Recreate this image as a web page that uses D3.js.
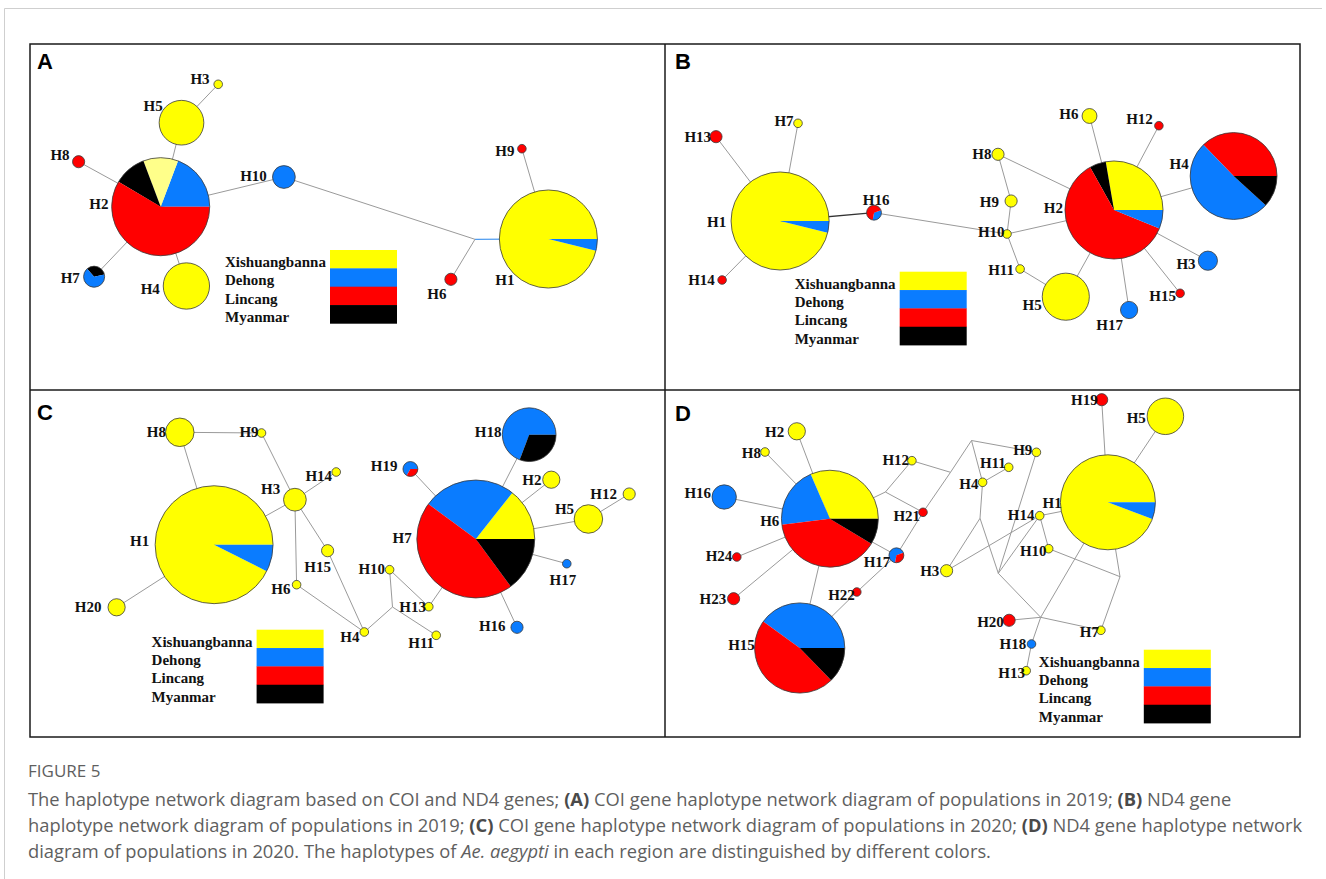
<!DOCTYPE html>
<html>
<head>
<meta charset="utf-8">
<script src="https://cdn.jsdelivr.net/npm/d3@7"></script>
<style>
  body { margin: 0; background: #fff; }
  .link { stroke: #9a9a9a; stroke-width: 1; fill: none; }
  .link.dk { stroke: #333; stroke-width: 1.3; }
  .link.hl { stroke: #4f9cf0; stroke-width: 1.2; }
  .hap { font-family: "Liberation Serif", "Times New Roman", serif; font-weight: bold; font-size: 15px; fill: #111; }
  .letter { font-family: "Liberation Sans", Arial, sans-serif; font-weight: bold; font-size: 22px; fill: #000; }
  .cap { font-family: "Open Sans", sans-serif; fill: #5f5f5f; }
</style>
</head>
<body>
<script>
// Haplotype networks, COI and ND4, 2019 / 2020

var width = 1326;
var height = 879;

// regions in the legend
var regions = ["Xishuangbanna", "Dehong", "Lincang", "Myanmar"];
var regionKeys = ["X", "D", "L", "M"];
var colors = { X: "#ffff00", D: "#0a7cff", L: "#ff0000", M: "#000000", P: "#ffff8a" };

// nodes: layout position in the panel, label anchor, start angle (deg) and slice counts
var nodesA = [
  { id: "H1", x: 518.4, y: 195, lx: 484.5, ly: 235.3, a0: 0, s: [["X", 125], ["D", 5]] },
  { id: "H2", x: 130.7, y: 162.7, lx: 78.4, ly: 160, a0: 0, s: [["D", 25], ["P", 15], ["M", 14], ["L", 76]] },
  { id: "H3", x: 188.2, y: 40.3, lx: 179.6, ly: 35, a0: 0, s: [["X", 1]] },
  { id: "H4", x: 156.4, y: 242, lx: 129.8, ly: 244.3, a0: 0, s: [["X", 29]] },
  { id: "H5", x: 151.5, y: 78.7, lx: 132.7, ly: 61.7, a0: 0, s: [["X", 27]] },
  { id: "H6", x: 420.9, y: 235.3, lx: 416.4, ly: 249.3, a0: 0, s: [["L", 2]] },
  { id: "H7", x: 64.1, y: 232.7, lx: 49.8, ly: 233.3, a0: 12, s: [["M", 2], ["D", 4]] },
  { id: "H8", x: 48.6, y: 117.7, lx: 39.6, ly: 111, a0: 0, s: [["L", 2]] },
  { id: "H9", x: 491.9, y: 104.7, lx: 484.5, ly: 106.7, a0: 0, s: [["L", 1]] },
  { id: "H10", x: 253.9, y: 133, lx: 236.8, ly: 132, a0: 0, s: [["D", 7]] },
  { id: "J1", x: 445, y: 195.3 }
];
var linksA = [["H2", "H5"], ["H5", "H3"], ["H2", "H8"], ["H2", "H7"], ["H2", "H4"], ["H2", "H10"],
  ["H10", "J1"], ["J1", "H1", "hl"], ["J1", "H6"], ["H1", "H9"]];

var nodesB = [
  { id: "H1", x: 115.1, y: 177, lx: 61.2, ly: 177.7, a0: 0, s: [["X", 125], ["D", 5]] },
  { id: "H2", x: 449, y: 166, lx: 398, ly: 163.7, a0: 0, s: [["X", 36], ["M", 7], ["L", 79], ["D", 8]] },
  { id: "H3", x: 542.9, y: 216.7, lx: 530.6, ly: 219.3, a0: 0, s: [["D", 5]] },
  { id: "H4", x: 568.6, y: 132, lx: 523.7, ly: 119.3, a0: 0, s: [["L", 38], ["D", 52], ["M", 12]] },
  { id: "H5", x: 400.8, y: 252.7, lx: 376.7, ly: 261, a0: 0, s: [["X", 30]] },
  { id: "H6", x: 424.5, y: 72, lx: 413.5, ly: 69.3, a0: 0, s: [["X", 3]] },
  { id: "H7", x: 133, y: 79.3, lx: 128.6, ly: 76.7, a0: 0, s: [["X", 1]] },
  { id: "H8", x: 333, y: 110.3, lx: 326.5, ly: 109.3, a0: 0, s: [["X", 2]] },
  { id: "H9", x: 346.1, y: 157, lx: 333.9, ly: 157.7, a0: 0, s: [["X", 2]] },
  { id: "H10", x: 342, y: 190, lx: 339.6, ly: 187.7, a0: 0, s: [["X", 1]] },
  { id: "H11", x: 355.1, y: 225, lx: 349, ly: 225.3, a0: 0, s: [["X", 1]] },
  { id: "H12", x: 493.9, y: 81.7, lx: 487.8, ly: 74.3, a0: 0, s: [["L", 1]] },
  { id: "H13", x: 51, y: 92.7, lx: 46.1, ly: 92.7, a0: 0, s: [["L", 2]] },
  { id: "H14", x: 57.1, y: 236, lx: 49.8, ly: 236, a0: 0, s: [["L", 1]] },
  { id: "H15", x: 515.1, y: 249.3, lx: 511, ly: 252, a0: 0, s: [["L", 1]] },
  { id: "H16", x: 209, y: 168.7, lx: 224.5, ly: 155.3, a0: -100, s: [["D", 1], ["L", 2]] },
  { id: "H17", x: 464.1, y: 266, lx: 458, ly: 281, a0: 0, s: [["D", 4]] }
];
var linksB = [["H1", "H13"], ["H1", "H7"], ["H1", "H14"], ["H1", "H16", "dk"], ["H16", "H10"], ["H10", "H9"],
  ["H9", "H8"], ["H8", "H2"], ["H10", "H2"], ["H10", "H11"], ["H11", "H5"], ["H5", "H2"], ["H2", "H6"],
  ["H2", "H12"], ["H2", "H4"], ["H2", "H3"], ["H2", "H15"], ["H2", "H17"]];

var nodesC = [
  { id: "H1", x: 184.1, y: 154.7, lx: 119.2, ly: 150.7, a0: 0, s: [["X", 174], ["D", 14]] },
  { id: "H2", x: 521.3, y: 89.7, lx: 511.5, ly: 89.7, a0: 0, s: [["X", 4]] },
  { id: "H3", x: 264.9, y: 109.7, lx: 250.2, ly: 99, a0: 0, s: [["X", 7]] },
  { id: "H4", x: 334.3, y: 242, lx: 329.4, ly: 246.3, a0: 0, s: [["X", 1]] },
  { id: "H5", x: 558.4, y: 129, lx: 544.1, ly: 118.7, a0: 0, s: [["X", 11]] },
  { id: "H6", x: 266.6, y: 194.7, lx: 260.4, ly: 198.7, a0: 0, s: [["X", 1]] },
  { id: "H7", x: 445.8, y: 149, lx: 381.7, ly: 148, a0: 0, s: [["X", 27], ["D", 48], ["L", 85], ["M", 28]] },
  { id: "H8", x: 149.8, y: 42.3, lx: 136, ly: 41.3, a0: 0, s: [["X", 11]] },
  { id: "H9", x: 231.5, y: 43, lx: 228.6, ly: 41.3, a0: 0, s: [["X", 1]] },
  { id: "H10", x: 359.6, y: 179.7, lx: 355.1, ly: 178.7, a0: 0, s: [["X", 1]] },
  { id: "H11", x: 406.2, y: 245.3, lx: 404.1, ly: 253, a0: 0, s: [["X", 1]] },
  { id: "H12", x: 599.2, y: 104, lx: 587, ly: 104, a0: 0, s: [["X", 2]] },
  { id: "H13", x: 398.8, y: 216.7, lx: 396, ly: 217, a0: 0, s: [["X", 1]] },
  { id: "H14", x: 306.2, y: 82, lx: 302.1, ly: 85.3, a0: 0, s: [["X", 1]] },
  { id: "H15", x: 297.6, y: 160.7, lx: 300.9, ly: 177, a0: 0, s: [["X", 2]] },
  { id: "H16", x: 487, y: 237.3, lx: 475.6, ly: 235.3, a0: 0, s: [["D", 2]] },
  { id: "H17", x: 536.8, y: 173.7, lx: 546.2, ly: 189.7, a0: 0, s: [["D", 1]] },
  { id: "H18", x: 499.2, y: 44.7, lx: 471.5, ly: 41.3, a0: 0, s: [["D", 27], ["M", 12]] },
  { id: "H19", x: 380.4, y: 79, lx: 367.4, ly: 75.3, a0: 0, s: [["D", 2], ["L", 1]] },
  { id: "H20", x: 86.6, y: 217.3, lx: 71.5, ly: 216.3, a0: 0, s: [["X", 4]] },
  { id: "J1", x: 362.5, y: 217 }
];
var linksC = [["H1", "H8"], ["H8", "H9"], ["H9", "H3"], ["H3", "H1"], ["H3", "H14"], ["H3", "H15"], ["H3", "H6"],
  ["H15", "H4"], ["H6", "H4"], ["H4", "J1"], ["J1", "H10"], ["J1", "H11"], ["H10", "H13"], ["H13", "H7"],
  ["H1", "H20"], ["H7", "H19"], ["H7", "H18"], ["H7", "H2"], ["H7", "H5"], ["H5", "H12"], ["H7", "H17"], ["H7", "H16"]];

var nodesD = [
  { id: "H1", x: 442.9, y: 112.3, lx: 396.7, ly: 112.3, a0: 0, s: [["X", 115], ["D", 7]] },
  { id: "H2", x: 131.8, y: 41.3, lx: 119.2, ly: 41.3, a0: 0, s: [["X", 4]] },
  { id: "H3", x: 281.6, y: 180.7, lx: 274.3, ly: 180.3, a0: 0, s: [["X", 2]] },
  { id: "H4", x: 317.6, y: 92.3, lx: 313.5, ly: 94, a0: 0, s: [["X", 1]] },
  { id: "H5", x: 500.4, y: 26.3, lx: 480.8, ly: 28, a0: 0, s: [["X", 18]] },
  { id: "H6", x: 164.9, y: 128.7, lx: 114.3, ly: 130.3, a0: 0, s: [["X", 40], ["D", 26], ["L", 50], ["M", 11]] },
  { id: "H7", x: 435.9, y: 240.3, lx: 433.9, ly: 241.3, a0: 0, s: [["X", 1]] },
  { id: "H8", x: 100, y: 62, lx: 95.9, ly: 63, a0: 0, s: [["X", 1]] },
  { id: "H9", x: 371.4, y: 62.3, lx: 367.3, ly: 59.7, a0: 0, s: [["X", 1]] },
  { id: "H10", x: 383.7, y: 158.7, lx: 381.6, ly: 160.3, a0: 0, s: [["X", 1]] },
  { id: "H11", x: 343.7, y: 77.3, lx: 340.8, ly: 73, a0: 0, s: [["X", 1]] },
  { id: "H12", x: 246.9, y: 70.7, lx: 244.1, ly: 69.7, a0: 0, s: [["X", 1]] },
  { id: "H13", x: 361.2, y: 280.7, lx: 360, ly: 283, a0: 0, s: [["X", 1]] },
  { id: "H14", x: 374.7, y: 125.7, lx: 369.4, ly: 124.7, a0: 0, s: [["X", 1]] },
  { id: "H15", x: 134.7, y: 258, lx: 89.8, ly: 254.7, a0: 0, s: [["D", 44], ["L", 52], ["M", 14]] },
  { id: "H16", x: 59.2, y: 107, lx: 46.1, ly: 103, a0: 0, s: [["D", 8]] },
  { id: "H17", x: 231.4, y: 165.3, lx: 225.3, ly: 172, a0: 20, s: [["D", 2], ["L", 1]] },
  { id: "H18", x: 366.5, y: 254, lx: 361.2, ly: 253.7, a0: 0, s: [["D", 1]] },
  { id: "H19", x: 436.7, y: 9.7, lx: 432.7, ly: 9.7, a0: 0, s: [["L", 2]] },
  { id: "H20", x: 344.1, y: 230.3, lx: 338.8, ly: 232, a0: 0, s: [["L", 2]] },
  { id: "H21", x: 258, y: 122.3, lx: 255.1, ly: 125.7, a0: 0, s: [["L", 1]] },
  { id: "H22", x: 191.8, y: 202, lx: 189.8, ly: 204.7, a0: 0, s: [["L", 1]] },
  { id: "H23", x: 68.6, y: 208.7, lx: 61.2, ly: 208.7, a0: 0, s: [["L", 2]] },
  { id: "H24", x: 71.8, y: 167, lx: 67.3, ly: 165.3, a0: 0, s: [["L", 1]] },
  { id: "J1", x: 306.5, y: 50.5 },
  { id: "J2", x: 285.5, y: 82.3 },
  { id: "J3", x: 220.4, y: 102 },
  { id: "J4", x: 333.3, y: 183.3 },
  { id: "J5", x: 315, y: 128.3 },
  { id: "J6", x: 375.7, y: 227.3 },
  { id: "J7", x: 455, y: 186.7 }
];
var linksD = [["H6", "H2"], ["H6", "H8"], ["H6", "H16"], ["H6", "H24"], ["H6", "H23"], ["H6", "H15"], ["H6", "H17"],
  ["H15", "H22"], ["H22", "H17"], ["H17", "H21"], ["H21", "J2"], ["J2", "J1"], ["J2", "H12"], ["H12", "J3"],
  ["J3", "H6"], ["J3", "H21"], ["J1", "H9"], ["J1", "H4"], ["H4", "H11"], ["H4", "J5"], ["J5", "H3"], ["J5", "J4"],
  ["H3", "H14"], ["H9", "J4"], ["H14", "J4"], ["H14", "H10"], ["H14", "H1"], ["J4", "J6"], ["J6", "H20"],
  ["J6", "H7"], ["J6", "H1"], ["J6", "H18"], ["H18", "H13"], ["H10", "J7"], ["J7", "H1"], ["J7", "H7"],
  ["H1", "H19"], ["H1", "H5"]];

// panel frames and legend placement
var panels = [
  { key: "A", x0: 30, y0: 44, w: 635, h: 346, nodes: nodesA, links: linksA, legend: [300, 206], letter: [7, 25] },
  { key: "B", x0: 665, y0: 44, w: 635, h: 346, nodes: nodesB, links: linksB, legend: [234.7, 227.7], letter: [10, 24.5] },
  { key: "C", x0: 30, y0: 390, w: 635, h: 347, nodes: nodesC, links: linksC, legend: [226.6, 239.7], letter: [7, 30] },
  { key: "D", x0: 665, y0: 390, w: 635, h: 347, nodes: nodesD, links: linksD, legend: [478.8, 259.7], letter: [10, 31] }
];

var svg = d3.select("body").append("svg")
  .attr("width", width)
  .attr("height", height);

// light page frame
svg.append("path")
  .attr("d", "M1322,8.5H4.5V879")
  .attr("fill", "none")
  .attr("stroke", "#cfcfcf")
  .attr("stroke-width", 1);

// node size ~ sqrt(haplotype count)
var rScale = d3.scaleSqrt().domain([0, 188]).range([0, 4.3 * Math.sqrt(188)]);
var arc = d3.arc().innerRadius(0);
var rad = Math.PI / 180;

panels.forEach(function(p) {
  var g = svg.append("g").attr("transform", `translate(${p.x0}, ${p.y0})`);

  var x = d3.scaleLinear().domain([0, p.w]).range([0, p.w]);
  var y = d3.scaleLinear().domain([0, p.h]).range([0, p.h]);

  var byId = {};
  p.nodes.forEach(function(d) {
    d.n = d.s ? d3.sum(d.s, s => s[1]) : 0;
    byId[d.id] = d;
  });

  // links
  g.selectAll(".link")
    .data(p.links)
    .enter()
    .append("line")
    .attr("class", d => "link" + (d[2] ? " " + d[2] : ""))
    .attr("x1", d => x(byId[d[0]].x))
    .attr("y1", d => y(byId[d[0]].y))
    .attr("x2", d => x(byId[d[1]].x))
    .attr("y2", d => y(byId[d[1]].y));

  // haplotype pies
  var haps = p.nodes.filter(d => d.s);
  var nodeG = g.selectAll(".node")
    .data(haps)
    .enter()
    .append("g")
    .attr("class", "node")
    .attr("transform", d => `translate(${x(d.x)}, ${y(d.y)})`);

  nodeG.each(function(d) {
    var el = d3.select(this);
    var r = rScale(d.n);
    if (d.s.length === 1) {
      el.append("circle").attr("r", r).attr("fill", colors[d.s[0][0]]);
    } else {
      var cum = 0;
      d.s.forEach(function(s) {
        var phi0 = d.a0 + 360 * cum / d.n;
        var phi1 = phi0 + 360 * s[1] / d.n;
        cum += s[1];
        el.append("path")
          .attr("d", arc({ outerRadius: r, startAngle: (90 - phi1) * rad, endAngle: (90 - phi0) * rad }))
          .attr("fill", colors[s[0]]);
      });
    }
    el.append("circle")
      .attr("r", r)
      .attr("fill", "none")
      .attr("stroke", "#3a3a3a")
      .attr("stroke-width", 0.8);
  });

  // haplotype labels
  g.selectAll(".hap")
    .data(haps)
    .enter()
    .append("text")
    .attr("class", "hap")
    .attr("x", d => x(d.lx))
    .attr("y", d => y(d.ly))
    .attr("dy", "0.35em")
    .attr("text-anchor", "end")
    .text(d => d.id);

  // legend
  var lg = g.append("g").attr("transform", `translate(${p.legend[0]}, ${p.legend[1]})`);
  var rowH = 18.35;
  lg.selectAll("rect")
    .data(regionKeys)
    .enter()
    .append("rect")
    .attr("x", 0)
    .attr("y", (d, i) => i * rowH)
    .attr("width", 67)
    .attr("height", rowH + 0.3)
    .attr("fill", d => colors[d]);
  lg.selectAll("text")
    .data(regions)
    .enter()
    .append("text")
    .attr("class", "hap")
    .attr("x", -105)
    .attr("y", (d, i) => i * rowH + rowH / 2 + 2.5)
    .attr("dy", "0.35em")
    .text(d => d);

  // panel letter
  g.append("text")
    .attr("class", "letter")
    .attr("x", p.letter[0])
    .attr("y", p.letter[1])
    .text(p.key);
});

// figure frame and dividers
svg.append("rect")
  .attr("x", 30).attr("y", 44)
  .attr("width", 1270).attr("height", 693)
  .attr("fill", "none").attr("stroke", "#1a1a1a").attr("stroke-width", 1.5);
svg.append("line").attr("x1", 665).attr("x2", 665).attr("y1", 44).attr("y2", 737)
  .attr("stroke", "#1a1a1a").attr("stroke-width", 1.5);
svg.append("line").attr("x1", 30).attr("x2", 1300).attr("y1", 390).attr("y2", 390)
  .attr("stroke", "#1a1a1a").attr("stroke-width", 1.5);

// caption
svg.append("text")
  .attr("class", "cap")
  .attr("x", 28).attr("y", 777)
  .attr("font-size", 17)
  .attr("font-weight", 500)
  .attr("fill", "#555")
  .text("FIGURE 5");

var captionLines = [
  [["The haplotype network diagram based on COI and ND4 genes; "], ["(A)", "b"], [" COI gene haplotype network diagram of populations in 2019; "], ["(B)", "b"], [" ND4 gene"]],
  [["haplotype network diagram of populations in 2019; "], ["(C)", "b"], [" COI gene haplotype network diagram of populations in 2020; "], ["(D)", "b"], [" ND4 gene haplotype network"]],
  [["diagram of populations in 2020. The haplotypes of "], ["Ae. aegypti", "i"], [" in each region are distinguished by different colors."]]
];
var captionWidths = [1187, 1268, 983];

var capTexts = captionLines.map(function(line, i) {
  var t = svg.append("text")
    .attr("class", "cap")
    .attr("x", 28)
    .attr("y", 806 + i * 26)
    .attr("font-size", 16);
  line.forEach(function(part) {
    var ts = t.append("tspan").text(part[0]);
    if (part[1] === "b") ts.attr("font-weight", 700).attr("fill", "#4a4a4a");
    if (part[1] === "i") ts.attr("font-style", "italic");
  });
  return t;
});

// fit caption size to the measured line widths
var ratios = capTexts.map((t, i) => captionWidths[i] / t.node().getComputedTextLength());
var fs = 16 * d3.mean(ratios);
capTexts.forEach(t => t.attr("font-size", fs));
</script>
</body>
</html>
